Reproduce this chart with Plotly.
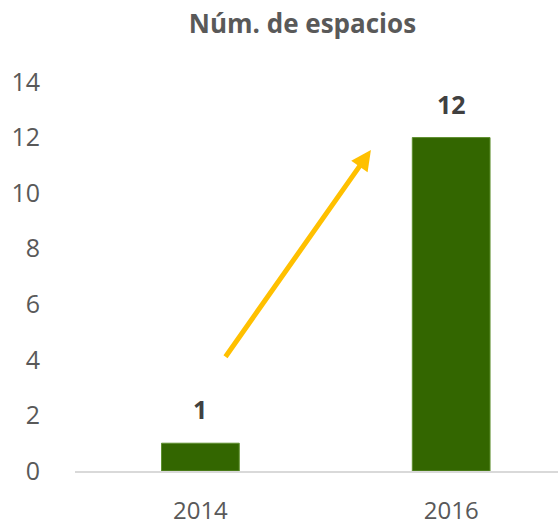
import plotly.graph_objects as go

categories = ["2014", "2016"]
values = [1, 12]
y_ticks = [0, 2, 4, 6, 8, 10, 12, 14]

fig = go.Figure()
fig.add_trace(go.Bar(
    x=categories, y=values,
    width=0.31,
    marker=dict(color="#336600", line=dict(color="#5E8F2E", width=1)),
    hoverinfo="skip",
))

for i, v in enumerate(values):
    fig.add_annotation(x=i, y=v, xref="x", yref="y", text=f"<b>{v}</b>", showarrow=False,
                       yshift=34, font=dict(family="Open Sans", size=25, color="#404040"))

# trend arrow
fig.add_annotation(x=0.68, y=11.55, ax=0.096, ay=4.06, xref="x", yref="y",
                   axref="x", ayref="y", showarrow=True, text="",
                   arrowhead=2, arrowsize=0.8, arrowwidth=5, arrowcolor="#FFC000")

fig.update_layout(
    width=558, height=525,
    margin=dict(l=75, r=0, t=82, b=54),
    paper_bgcolor="white", plot_bgcolor="white",
    showlegend=False,
    title=dict(text="<b>Núm. de espacios</b>", xref="container", yref="container",
               x=0.542, xanchor="center", y=0.954, yanchor="middle",
               font=dict(family="Open Sans", size=26, color="#595959")),
    xaxis=dict(type="category", range=[-0.5, 1.426], showgrid=False, automargin=False,
               showline=True, linecolor="#D9D9D9", linewidth=1.5,
               ticks="", ticklabelstandoff=17,
               tickfont=dict(family="Open Sans", size=24, color="#595959")),
    yaxis=dict(range=[0, 14], tickvals=y_ticks, showgrid=False, zeroline=False,
               automargin=False, showline=False, ticks="", ticklabelstandoff=34,
               tickfont=dict(family="Open Sans", size=25, color="#595959")),
)

fig.write_html("out.html", config={"displayModeBar": False},
               post_script="document.body.style.margin='0';")
